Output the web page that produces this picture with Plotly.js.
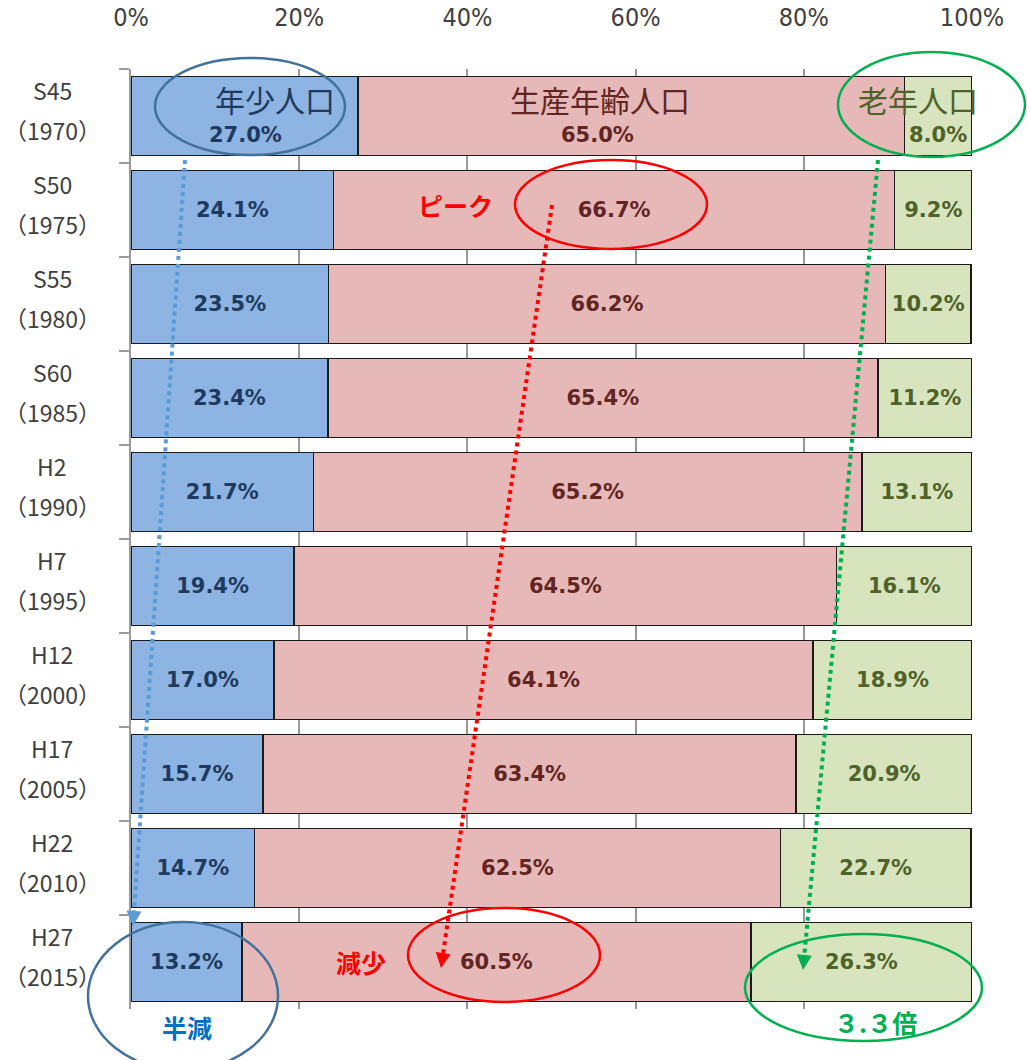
<!DOCTYPE html>
<html>
<head>
<meta charset="utf-8">
<script src="https://cdn.plot.ly/plotly-3.0.1.min.js"></script>
<style>
  body { margin: 0; background: #fff; }
  #chart { width: 1027px; height: 1060px; }
</style>
</head>
<body>
<div id="chart"></div>
<script>
// data (percent of total population)
const eras = ['S45', 'S50', 'S55', 'S60', 'H2', 'H7', 'H12', 'H17', 'H22', 'H27'];
const years = ['1970', '1975', '1980', '1985', '1990', '1995', '2000', '2005', '2010', '2015'];
const young = [27.0, 24.1, 23.5, 23.4, 21.7, 19.4, 17.0, 15.7, 14.7, 13.2];
const working = [65.0, 66.7, 66.2, 65.4, 65.2, 64.5, 64.1, 63.4, 62.5, 60.5];
const old = [8.0, 9.2, 10.2, 11.2, 13.1, 16.1, 18.9, 20.9, 22.7, 26.3];
const seriesNames = ['年少人口', '生産年齢人口', '老年人口'];
const xTicks = [0, 20, 40, 60, 80, 100];
const xTickText = ['0%', '20%', '40%', '60%', '80%', '100%'];

const cats = eras.map((e, i) => e + '_' + years[i]);

// plot area in pixels
const L = 131, R = 972, T = 69, B = 1009;
const px = x => (x - L) / (R - L);
const py = y => (B - y) / (B - T);

const fillCol = ['#8DB4E2', '#E6B9B8', '#D7E4BD'];
const txtCol = ['#1F3A60', '#632523', '#4F6228'];
const jp = '"Noto Sans CJK JP", sans-serif';
const num = '"DejaVu Sans", Arial, sans-serif';

// first row gets its labels from annotations (placed lower, under the series names)
const label = arr => arr.map((v, i) => i === 0 ? '' : v.toFixed(1) + '%');

const traces = [young, working, old].map((vals, k) => ({
  type: 'bar',
  orientation: 'h',
  name: seriesNames[k],
  y: cats,
  x: vals,
  text: label(vals),
  textposition: 'inside',
  insidetextanchor: 'middle',
  textfont: { family: num, size: 21, color: txtCol[k], weight: 'bold' },
  marker: { color: fillCol[k], line: { color: '#1a1a1a', width: 1.5 } },
  hoverinfo: 'skip'
}));

const annotations = [];
const txt = (x, y, text, font) => annotations.push({ xref: 'paper', yref: 'paper',
  x: px(x), y: py(y), text: text, showarrow: false, xanchor: 'center', yanchor: 'middle', font: font });

// category labels, two lines, centered
cats.forEach((c, i) => {
  annotations.push({ xref: 'paper', yref: 'y', x: px(52), y: c, yshift: 26, text: eras[i],
    showarrow: false, xanchor: 'center', yanchor: 'middle', font: { family: jp, size: 23, color: '#404040' } });
  annotations.push({ xref: 'paper', yref: 'y', x: px(52), y: c, yshift: -14, text: '（' + years[i] + '）',
    showarrow: false, xanchor: 'center', yanchor: 'middle', font: { family: jp, size: 23, color: '#404040' } });
});

// first row: series names and values
const firstVals = [young[0], working[0], old[0]];
const nameX = [275, 600, 918];
const valX = [245, 597, 938];
for (let k = 0; k < 3; k++) {
  txt(nameX[k], 99, seriesNames[k], { family: jp, size: 30, color: txtCol[k] });
  txt(valX[k], 135, firstVals[k].toFixed(1) + '%', { family: num, size: 21, color: txtCol[k], weight: 'bold' });
}

// call-out words
txt(455, 205, 'ピーク', { family: jp, size: 25, color: '#FF0000', weight: 'bold' });
txt(361, 962, '減少', { family: jp, size: 25, color: '#FF0000', weight: 'bold' });
txt(187, 1027, '半減', { family: jp, size: 25, color: '#0070C0', weight: 'bold' });
txt(875, 1022, '３.３倍', { family: jp, size: 25, color: '#00B050', weight: 'bold' });

// dotted arrows: line shapes + arrowheads
const arrows = [
  { x0: 185, y0: 160, x1: 133, y1: 926, color: '#5B9BD5' },
  { x0: 552, y0: 205, x1: 441, y1: 968, color: '#FF0000' },
  { x0: 878, y0: 160, x1: 803, y1: 970, color: '#00B050' }
];
const shapes = [];
arrows.forEach(a => {
  const dx = a.x1 - a.x0, dy = a.y1 - a.y0, len = Math.hypot(dx, dy);
  const ux = dx / len, uy = dy / len;
  shapes.push({ type: 'line', xref: 'paper', yref: 'paper',
    x0: px(a.x0), y0: py(a.y0), x1: px(a.x1 - ux * 14), y1: py(a.y1 - uy * 14),
    line: { color: a.color, width: 4, dash: 'dot' } });
  annotations.push({ xref: 'paper', yref: 'paper', x: px(a.x1), y: py(a.y1), text: '',
    showarrow: true, arrowhead: 2, arrowsize: 1, arrowwidth: 3, arrowcolor: a.color,
    ax: -ux * 16, ay: -uy * 16, standoff: 0 });
});

// ellipses (pixel bounds)
const ellipses = [
  { x0: 155, x1: 345, y0: 58, y1: 155, color: '#41719C' },
  { x0: 838, x1: 1025, y0: 52, y1: 157, color: '#00B050' },
  { x0: 515, x1: 707, y0: 160, y1: 249, color: '#FF0000' },
  { x0: 408, x1: 600, y0: 908, y1: 1002, color: '#FF0000' },
  { x0: 88, x1: 278, y0: 922, y1: 1070, color: '#41719C' },
  { x0: 745, x1: 982, y0: 934, y1: 1041, color: '#00B050' }
];
ellipses.forEach(e => shapes.push({ type: 'circle', xref: 'paper', yref: 'paper',
  x0: px(e.x0), x1: px(e.x1), y0: py(e.y1), y1: py(e.y0),
  line: { color: e.color, width: 2.5 } }));

const layout = {
  width: 1027,
  height: 1060,
  margin: { l: L, r: 1027 - R, t: T, b: 1060 - B },
  barmode: 'stack',
  bargap: 0.16,
  showlegend: false,
  paper_bgcolor: '#fff',
  plot_bgcolor: '#fff',
  xaxis: {
    side: 'top',
    range: [0, 100],
    tickmode: 'array',
    tickvals: xTicks,
    ticktext: xTickText,
    ticks: 'outside',
    ticklen: 32,
    tickcolor: 'rgba(0,0,0,0)',
    showgrid: true,
    gridcolor: '#9A9A9A',
    gridwidth: 1.5,
    zeroline: false,
    showline: false,
    tickfont: { family: '"Liberation Sans Narrow", "DejaVu Sans Condensed", sans-serif', size: 25, color: '#404040' }
  },
  yaxis: {
    type: 'category',
    autorange: 'reversed',
    showticklabels: false,
    tickson: 'boundaries',
    ticks: 'outside',
    ticklen: 10,
    tickcolor: '#9A9A9A',
    tickwidth: 1.5,
    showgrid: false,
    showline: true,
    linecolor: '#9A9A9A',
    linewidth: 1.5
  },
  shapes: shapes,
  annotations: annotations
};

Plotly.newPlot('chart', traces, layout, { displayModeBar: false });
</script>
</body>
</html>
